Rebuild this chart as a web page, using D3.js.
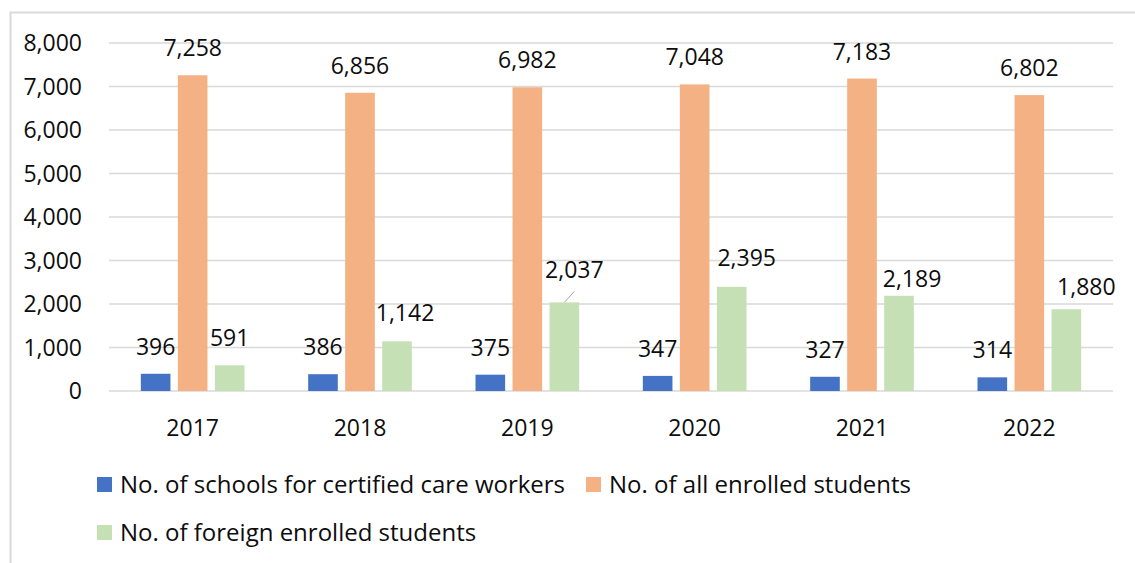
<!DOCTYPE html>
<html>
<head>
<meta charset="utf-8">
<script src="https://cdn.jsdelivr.net/npm/d3@7"></script>
<style>
  body { margin: 0; background: #fff; }
  svg text { font-family: "Open Sans", "Liberation Sans", sans-serif; fill: #0d0d0d; }
</style>
</head>
<body>
<svg width="1135" height="563"></svg>
<script>
/* chart data */
var years = ["2017", "2018", "2019", "2020", "2021", "2022"];
var schools = [396, 386, 375, 347, 327, 314];
var allStudents = [7258, 6856, 6982, 7048, 7183, 6802];
var foreignStudents = [591, 1142, 2037, 2395, 2189, 1880];
var seriesNames = ["No. of schools for certified care workers", "No. of all enrolled students", "No. of foreign enrolled students"];
var yTicks = [0, 1000, 2000, 3000, 4000, 5000, 6000, 7000, 8000];

// hand moved labels on the green series (like in the original workbook)
var greenLabelNudge = [[0, 0], [8, -1], [10, -5], [15, -2], [13, 10], [20, 5]];

var colors = ["#4472C4", "#F4B183", "#C5E0B4"];

var svg = d3.select("svg"),
    width = +svg.attr("width"),
    height = +svg.attr("height");

var series = [schools, allStudents, foreignStudents];
var fmt = d3.format(",");

// outer frame
svg.append("rect")
    .attr("x", 10.5).attr("y", 12.5)
    .attr("width", width + 20).attr("height", height + 20)
    .attr("fill", "none")
    .attr("stroke", "#d9d9d9")
    .attr("stroke-width", 2);

var x = d3.scaleBand().domain(years).range([109, 1113]);
var xs = d3.scaleBand().domain([0, 1, 2]).range([0, x.bandwidth()])
    .paddingInner(0.2).paddingOuter(0.86);
var y = d3.scaleLinear().domain([0, 8000]).range([391, 43]);

// grid
svg.append("g")
    .selectAll("line")
    .data(yTicks)
    .enter().append("line")
    .attr("x1", 109).attr("x2", 1113)
    .attr("y1", function (d) { return y(d); })
    .attr("y2", function (d) { return y(d); })
    .attr("stroke", "#d9d9d9")
    .attr("stroke-width", 1.5);

// y labels
svg.append("g")
    .selectAll("text")
    .data(yTicks)
    .enter().append("text")
    .attr("x", 82)
    .attr("y", function (d) { return y(d); })
    .attr("dy", "0.35em")
    .attr("text-anchor", "end")
    .style("font-size", "23px")
    .text(function (d) { return fmt(d); });

// x labels
svg.append("g")
    .selectAll("text")
    .data(years)
    .enter().append("text")
    .attr("x", function (d) { return x(d) + x.bandwidth() / 2; })
    .attr("y", 428)
    .attr("dy", "0.35em")
    .attr("text-anchor", "middle")
    .style("font-size", "23px")
    .text(function (d) { return d; });

// bars + labels
series.forEach(function (vals, s) {
    var g = svg.append("g");
    g.selectAll("rect")
        .data(vals)
        .enter().append("rect")
        .attr("x", function (d, i) { return x(years[i]) + xs(s); })
        .attr("y", function (d) { return y(d); })
        .attr("width", xs.bandwidth())
        .attr("height", function (d) { return y(0) - y(d); })
        .attr("fill", colors[s]);

    g.selectAll("text")
        .data(vals)
        .enter().append("text")
        .attr("x", function (d, i) {
            var nx = s == 2 ? greenLabelNudge[i][0] : 0;
            return x(years[i]) + xs(s) + xs.bandwidth() / 2 + nx;
        })
        .attr("y", function (d, i) {
            var ny = s == 2 ? greenLabelNudge[i][1] : 0;
            return y(d) - 27 + ny;
        })
        .attr("dy", "0.35em")
        .attr("text-anchor", "middle")
        .style("font-size", "23px")
        .text(function (d) { return fmt(d); });
});

// leader line for the 2019 label
var lx = x("2019") + xs(2) + xs.bandwidth() / 2;
svg.append("line")
    .attr("x1", lx).attr("y1", y(foreignStudents[2]))
    .attr("x2", lx + 10).attr("y2", y(foreignStudents[2]) - 11)
    .attr("stroke", "#a6a6a6")
    .attr("stroke-width", 1);

// legend
var legendPos = [[97, 485], [586, 485], [97, 533]];
var legend = svg.append("g")
    .selectAll("g")
    .data(seriesNames)
    .enter().append("g")
    .attr("transform", function (d, i) { return "translate(" + legendPos[i][0] + "," + legendPos[i][1] + ")"; });

legend.append("rect")
    .attr("x", 0).attr("y", -8)
    .attr("width", 15).attr("height", 15)
    .attr("fill", function (d, i) { return colors[i]; });

legend.append("text")
    .attr("x", 23)
    .attr("dy", "0.35em")
    .style("font-size", "24px")
    .text(function (d) { return d; });
</script>
</body>
</html>
